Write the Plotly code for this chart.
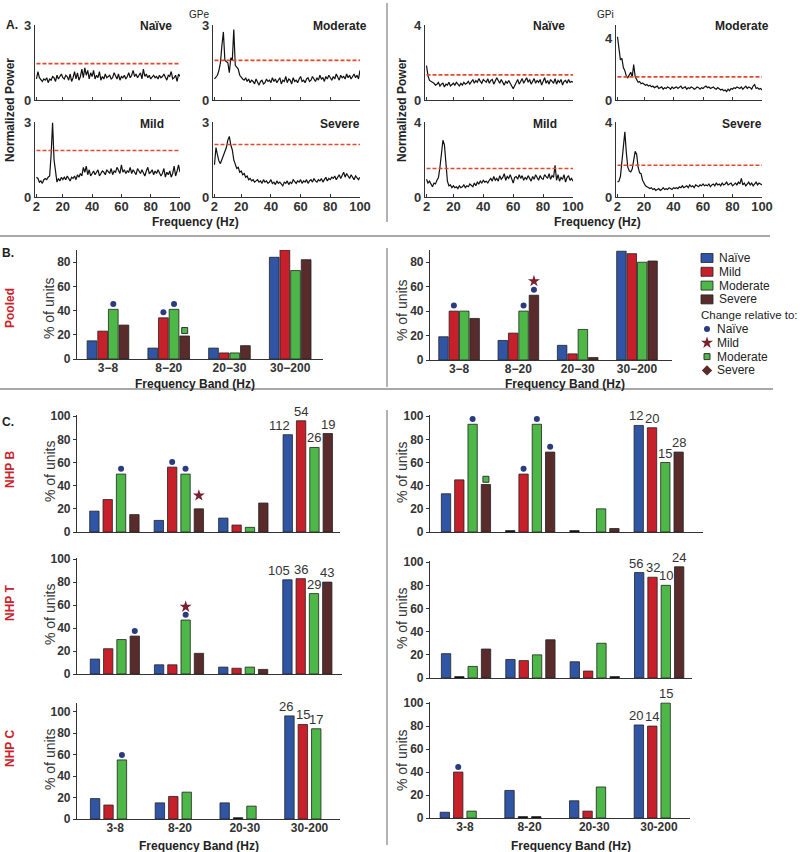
import plotly.graph_objects as go

# ---------------------------------------------------------------- data
FREQ_HZ = [2, 3, 4, 5, 6, 7, 8, 9, 10, 11, 12, 13, 14, 15, 16, 17, 18, 19, 20, 21,
           22, 23, 24, 25, 26, 27, 28, 29, 30, 31, 32, 33, 34, 35, 36, 37, 38, 39, 40, 41,
           42, 43, 44, 45, 46, 47, 48, 49, 50, 51, 52, 53, 54, 55, 56, 57, 58, 59, 60, 61,
           62, 63, 64, 65, 66, 67, 68, 69, 70, 71, 72, 73, 74, 75, 76, 77, 78, 79, 80, 81,
           82, 83, 84, 85, 86, 87, 88, 89, 90, 91, 92, 93, 94, 95, 96, 97, 98, 99, 100]

GPE_NAIVE = [0.85, 1.15, 0.90, 0.80, 0.75, 0.85, 0.80, 0.90, 0.70, 0.85, 0.80, 0.95, 0.90, 0.75, 1.00, 0.85, 0.95, 1.05, 0.90, 0.85,
             1.00, 0.95, 0.80, 1.05, 0.75, 0.90, 1.15, 0.85, 1.10, 0.80, 0.95, 1.25, 0.90, 1.30, 1.00, 1.20, 0.85, 1.10, 0.95, 1.20,
             0.85, 1.00, 0.90, 1.15, 0.80, 0.95, 0.85, 1.05, 0.90, 0.95, 1.00, 0.85, 0.90, 1.10, 0.95, 0.85, 1.05, 0.80, 0.95, 0.90,
             1.00, 0.85, 0.95, 1.10, 0.90, 1.00, 1.20, 0.95, 1.05, 0.90, 1.00, 1.10, 0.85, 1.25, 0.95, 1.05, 0.90, 1.00, 0.85, 0.95,
             1.00, 0.90, 0.95, 0.85, 1.00, 0.90, 0.95, 1.05, 0.90, 0.80, 1.00, 0.95, 1.15, 0.85, 0.90, 1.00, 0.75, 1.05, 0.95]
GPE_MODERATE = [0.85, 0.95, 1.00, 1.20, 1.50, 2.20, 2.75, 1.60, 1.55, 1.50, 1.10, 1.70, 1.60, 2.85, 1.40, 1.30, 1.25, 1.00, 0.90, 0.85,
                0.80, 0.90, 0.75, 0.85, 0.70, 0.80, 0.75, 0.65, 0.85, 0.70, 0.60, 0.75, 0.80, 0.65, 0.70, 0.85, 0.75, 0.80, 0.70, 0.90,
                0.75, 0.85, 0.70, 0.80, 0.90, 0.65, 0.80, 0.75, 0.95, 0.70, 0.85, 0.80, 0.65, 0.90, 0.75, 0.80, 0.70, 0.85, 0.95, 0.75,
                0.80, 0.70, 0.85, 0.90, 0.75, 0.80, 0.95, 0.85, 0.75, 0.90, 0.80, 1.00, 0.85, 0.90, 0.75, 0.95, 0.85, 1.00, 0.90, 0.80,
                0.95, 0.85, 1.05, 0.90, 0.80, 1.00, 0.90, 0.95, 0.85, 1.05, 0.90, 1.00, 0.85, 0.95, 1.05, 0.90, 1.00, 0.85, 1.20]
GPE_MILD = [0.80, 0.75, 0.60, 0.65, 0.55, 0.70, 0.75, 0.70, 0.80, 0.85, 1.70, 3.00, 1.50, 0.90, 0.60, 0.75, 0.65, 0.80, 0.70, 0.80,
            0.70, 0.85, 0.75, 0.65, 0.80, 0.75, 0.85, 0.70, 0.90, 0.80, 0.95, 0.85, 1.20, 1.00, 1.25, 0.90, 1.10, 0.85, 0.95, 1.05,
            0.90, 1.00, 1.10, 0.85, 0.95, 1.05, 1.00, 0.90, 1.10, 1.00, 0.95, 1.15, 0.90, 1.05, 1.00, 1.20, 1.10, 0.95, 1.30, 1.00,
            1.10, 0.95, 1.05, 1.00, 1.20, 0.95, 1.10, 1.00, 0.90, 1.15, 1.05, 0.95, 1.10, 1.00, 0.85, 1.05, 1.20, 0.95, 1.00, 1.10,
            0.90, 1.05, 0.95, 1.10, 1.00, 0.85, 0.95, 1.15, 0.80, 1.00, 0.90, 1.05, 0.80, 0.95, 1.25, 0.85, 1.05, 1.30, 1.00]
GPE_SEVERE = [1.30, 2.00, 1.70, 1.45, 1.35, 1.50, 1.70, 1.85, 2.00, 2.30, 2.45, 2.10, 1.90, 1.50, 1.30, 1.15, 1.20, 1.00, 1.05, 0.90,
              0.95, 0.80, 0.85, 0.70, 0.75, 0.65, 0.70, 0.60, 0.65, 0.70, 0.60, 0.65, 0.55, 0.70, 0.60, 0.65, 0.55, 0.60, 0.70, 0.55,
              0.60, 0.50, 0.65, 0.55, 0.60, 0.50, 0.45, 0.60, 0.55, 0.65, 0.50, 0.60, 0.55, 0.70, 0.60, 0.55, 0.65, 0.60, 0.70, 0.55,
              0.65, 0.60, 0.70, 0.55, 0.65, 0.70, 0.60, 0.75, 0.65, 0.60, 0.70, 0.65, 0.75, 0.60, 0.70, 0.80, 0.65, 0.75, 0.70, 0.80,
              0.75, 0.85, 0.70, 0.80, 0.90, 0.75, 0.85, 1.00, 0.80, 0.95, 0.85, 0.75, 0.90, 0.80, 0.70, 0.85, 0.75, 0.70, 0.80]

GPI_NAIVE = [1.85, 1.30, 1.05, 1.00, 0.95, 0.90, 0.80, 0.85, 0.95, 0.75, 0.85, 0.90, 0.70, 0.85, 0.80, 0.95, 0.75, 0.85, 0.90, 0.80,
             0.95, 0.85, 0.75, 0.90, 0.80, 0.95, 0.85, 0.90, 1.00, 0.85, 0.95, 1.10, 0.90, 1.05, 0.95, 1.15, 1.00, 0.90, 1.10, 1.00,
             0.95, 1.15, 0.90, 1.05, 1.10, 0.85, 1.00, 1.20, 1.05, 0.90, 1.10, 0.95, 0.80, 1.00, 0.90, 1.05, 0.85, 0.75, 0.60, 0.80,
             0.95, 1.10, 0.85, 1.00, 1.15, 0.90, 1.05, 1.20, 0.95, 1.10, 0.85, 1.00, 1.15, 0.90, 1.05, 0.95, 1.10, 0.80, 1.00, 1.20,
             0.90, 1.05, 0.85, 1.10, 1.00, 0.90, 1.15, 0.85, 1.05, 0.95, 1.10, 0.80, 1.00, 1.05, 0.90, 1.10, 0.95, 1.00, 0.95]
GPI_MODERATE = [4.10, 3.40, 2.60, 2.70, 2.10, 1.90, 1.55, 1.45, 1.60, 1.80, 1.50, 2.30, 1.50, 1.30, 1.15, 1.20, 1.05, 1.10, 1.00, 0.95,
                1.00, 0.90, 0.95, 0.85, 0.90, 0.80, 0.85, 0.90, 0.75, 0.80, 0.85, 0.70, 0.80, 0.75, 0.85, 0.80, 0.70, 0.85, 0.75, 0.80,
                0.85, 0.75, 0.80, 0.90, 0.75, 0.80, 0.85, 0.70, 0.80, 0.75, 0.85, 0.80, 0.70, 0.75, 0.85, 0.80, 0.70, 0.80, 0.75, 0.85,
                0.90, 0.80, 0.85, 0.75, 0.80, 0.85, 0.75, 0.70, 0.80, 0.75, 0.65, 0.70, 0.60, 0.65, 0.55, 0.70, 0.60, 0.75, 0.70, 0.80,
                0.75, 0.85, 0.80, 0.75, 0.85, 0.70, 0.80, 0.90, 0.75, 0.85, 0.80, 0.70, 0.90, 1.00, 0.75, 0.80, 0.70, 0.75, 0.65]
GPI_MILD = [0.95, 0.75, 0.85, 0.65, 0.55, 0.75, 0.70, 0.90, 1.05, 1.60, 2.50, 3.05, 2.80, 1.70, 0.85, 0.60, 0.65, 0.50, 0.60, 0.50,
            0.55, 0.45, 0.60, 0.50, 0.55, 0.65, 0.50, 0.60, 0.55, 0.70, 0.60, 0.55, 0.75, 0.60, 0.80, 0.70, 0.85, 0.75, 0.90, 0.80,
            0.85, 0.75, 0.90, 1.00, 0.85, 1.10, 0.90, 1.00, 0.85, 1.15, 0.95, 1.05, 1.25, 0.90, 1.10, 1.00, 1.20, 0.95, 0.75, 1.05,
            1.10, 0.95, 1.20, 1.00, 1.15, 0.90, 1.05, 0.95, 1.15, 1.00, 0.85, 1.10, 0.95, 1.20, 1.05, 0.90, 1.15, 1.00, 0.95, 1.20,
            1.10, 1.00, 1.25, 0.95, 1.15, 1.05, 1.70, 0.90, 1.20, 0.85, 1.05, 0.95, 1.20, 0.80, 1.05, 1.15, 0.90, 1.00, 0.85]
GPI_SEVERE = [0.80, 0.85, 1.10, 1.80, 2.80, 3.50, 2.40, 1.60, 1.40, 1.35, 1.50, 1.90, 2.45, 2.30, 1.60, 1.30, 1.25, 0.90, 0.70, 0.60,
              0.55, 0.50, 0.45, 0.50, 0.40, 0.45, 0.35, 0.40, 0.45, 0.35, 0.40, 0.50, 0.40, 0.45, 0.40, 0.50, 0.45, 0.40, 0.50, 0.45,
              0.50, 0.45, 0.55, 0.50, 0.60, 0.50, 0.55, 0.60, 0.50, 0.65, 0.55, 0.60, 0.50, 0.65, 0.60, 0.55, 0.65, 0.60, 0.70, 0.60,
              0.65, 0.60, 0.70, 0.55, 0.65, 0.70, 0.60, 0.75, 0.65, 0.70, 0.60, 0.75, 0.65, 0.70, 0.80, 0.65, 0.70, 0.75, 0.60, 0.70,
              0.75, 0.65, 0.80, 0.70, 1.00, 0.65, 0.75, 0.60, 0.70, 0.80, 0.65, 0.75, 0.60, 0.70, 0.80, 0.65, 0.75, 0.70, 0.65]

GPE_THRESH = {"Naïve": 1.47, "Mild": 1.88, "Moderate": 1.60, "Severe": 2.12}
GPI_THRESH = {"Naïve": 1.35, "Mild": 1.53, "Moderate": 1.50, "Severe": 1.71}

STATES = ["Naïve", "Mild", "Moderate", "Severe"]
BANDS_POOLED = ["3\u22128", "8\u221220", "20\u221230", "30\u2212200"]
BANDS_NHP = ["3-8", "8-20", "20-30", "30-200"]

POOLED_GPE = {"Naïve": [15, 9, 9, 84], "Mild": [23, 34, 5, 90], "Moderate": [41, 41, 5, 73], "Severe": [28, 19, 11, 82]}
POOLED_GPI = {"Naïve": [19, 16, 12, 89], "Mild": [40, 22, 5, 87], "Moderate": [40, 40, 25, 80], "Severe": [34, 53, 2, 81]}
NHPB_GPE = {"Naïve": [18, 10, 12, 84], "Mild": [28, 56, 6, 96], "Moderate": [50, 50, 4, 73], "Severe": [15, 20, 25, 85]}
NHPB_GPI = {"Naïve": [33, 0, 0, 92], "Mild": [45, 50, None, 90], "Moderate": [93, 93, 20, 60], "Severe": [41, 69, 3, 69]}
NHPT_GPE = {"Naïve": [13, 8, 6, 82], "Mild": [22, 8, 5, 83], "Moderate": [30, 47, 6, 70], "Severe": [33, 18, 4, 80]}
NHPT_GPI = {"Naïve": [21, 16, 14, 91], "Mild": [0, 15, 6, 87], "Moderate": [10, 20, 30, 80], "Severe": [25, 33, 0, 96]}
NHPC_GPE = {"Naïve": [19, 15, 15, 96], "Mild": [13, 21, 0, 88], "Moderate": [55, 25, 12, 84]}
NHPC_GPI = {"Naïve": [5, 24, 15, 81], "Mild": [40, 0, 6, 80], "Moderate": [6, 0, 27, 100]}

# unit counts written above the 30-200 bars
NHPB_GPE_N = [112, 54, 26, 19]
NHPB_GPI_N = [12, 20, 15, 28]
NHPT_GPE_N = [105, 36, 29, 43]
NHPT_GPI_N = [56, 32, 10, 24]
NHPC_GPE_N = [26, 15, 17]
NHPC_GPI_N = [20, 14, 15]

# significant changes: (band index, state, relative to)
SIG_POOLED_GPE = [(0, "Moderate", "Naïve"), (1, "Mild", "Naïve"), (1, "Moderate", "Naïve"), (1, "Severe", "Moderate")]
SIG_POOLED_GPI = [(0, "Mild", "Naïve"), (1, "Moderate", "Naïve"), (1, "Severe", "Naïve"), (1, "Severe", "Mild")]
SIG_NHPB_GPE = [(0, "Moderate", "Naïve"), (1, "Mild", "Naïve"), (1, "Moderate", "Naïve"), (1, "Severe", "Mild")]
SIG_NHPB_GPI = [(0, "Moderate", "Naïve"), (0, "Moderate", "Mild"), (0, "Severe", "Moderate"), (1, "Mild", "Naïve"),
                (1, "Moderate", "Naïve"), (1, "Moderate", "Mild"), (1, "Severe", "Naïve")]
SIG_NHPT_GPE = [(0, "Severe", "Naïve"), (1, "Moderate", "Naïve"), (1, "Moderate", "Mild")]
SIG_NHPT_GPI = []
SIG_NHPC_GPE = [(0, "Moderate", "Naïve")]
SIG_NHPC_GPI = [(0, "Mild", "Naïve")]

# ---------------------------------------------------------------- style
FONT = "Liberation Sans, Arial, Helvetica, sans-serif"
W, H = 800, 852
COLORS = {"Naïve": "#2f55a4", "Mild": "#c8202a", "Moderate": "#4db848", "Severe": "#5a2b2b"}
RED_LABEL = "#cc2229"
SIG_MARKER = {
    "Naïve": dict(symbol="circle", size=6, color="#2b3b80"),
    "Mild": dict(symbol="star", size=9, color="#7a1f2c"),
    "Moderate": dict(symbol="square", size=6, color="#4db848", line=dict(color="#333", width=1)),
    "Severe": dict(symbol="diamond", size=8, color="#5a2b2b"),
}
SIG_OFFSET = {"Naïve": 4.5, "Mild": 11.5, "Moderate": 4.5, "Severe": 4.5}

fig = go.Figure()
layout = {}
annotations = []
shapes = []
axn = [0]


def px_x(x):
    return x / W


def px_y(y):
    return 1 - y / H


def ann(x, y, text, size=12, bold=True, color="#222", angle=0, xanchor="center"):
    annotations.append(dict(xref="paper", yref="paper", x=px_x(x), y=px_y(y), text=text, showarrow=False,
                            xanchor=xanchor, yanchor="middle", textangle=angle,
                            font=dict(family=FONT, size=size, color=color, weight="bold" if bold else "normal")))


def sep(x0, y0, x1, y1, width=1.5, color="#9a9a9a"):
    shapes.append(dict(type="line", xref="paper", yref="paper", x0=px_x(x0), y0=px_y(y0), x1=px_x(x1), y1=px_y(y1),
                       line=dict(color=color, width=width)))


def new_axes(xpx, ypx, xr, yr, xkw=None, ykw=None):
    axn[0] += 1
    s = "" if axn[0] == 1 else str(axn[0])
    base = dict(showgrid=False, zeroline=False, showline=True, linecolor="#333", linewidth=1.2, automargin=False,
                tickfont=dict(family=FONT, size=12, color="#333", weight="bold"), fixedrange=True)
    xa = dict(base, domain=[px_x(xpx[0]), px_x(xpx[1])], range=xr, anchor="y" + s)
    ya = dict(base, domain=[px_y(ypx[1]), px_y(ypx[0])], range=yr, anchor="x" + s)
    xa.update(xkw or {})
    ya.update(ykw or {})
    layout["xaxis" + s] = xa
    layout["yaxis" + s] = ya
    return "x" + s, "y" + s


# ---------------------------------------------------------------- panel A
GPE_SPECTRA = {"Naïve": GPE_NAIVE, "Moderate": GPE_MODERATE, "Mild": GPE_MILD, "Severe": GPE_SEVERE}
GPI_SPECTRA = {"Naïve": GPI_NAIVE, "Moderate": GPI_MODERATE, "Mild": GPI_MILD, "Severe": GPI_SEVERE}
A_ROWS = [(25, 100), (122, 197)]
A_COLS = {"GPe": [(35, 180), (213, 360)], "GPi": [(425, 573), (616, 762)]}
A_POS = {"Naïve": (0, 0), "Moderate": (0, 1), "Mild": (1, 0), "Severe": (1, 1)}
TITLE_OFFSET = {"Naïve": 24, "Moderate": 20, "Mild": 28, "Severe": 20}
A_TICKFONT = dict(family=FONT, size=13, color="#333", weight="bold")

for region, spectra, thr, ytop in [("GPe", GPE_SPECTRA, GPE_THRESH, 3), ("GPi", GPI_SPECTRA, GPI_THRESH, 4)]:
    for state, (r, c) in A_POS.items():
        xpx = A_COLS[region][c]
        ypx = A_ROWS[r]
        yr_top = 4.86 if (region == "GPi" and state == "Moderate") else ytop + 0.03
        xa, ya = new_axes(xpx, ypx, [1, 100], [0, yr_top],
                          dict(tickvals=[2, 20, 40, 60, 80, 100], ticks="inside", ticklen=3, tickcolor="#333",
                               showticklabels=(r == 1), tickfont=A_TICKFONT, ticklabelstandoff=-3),
                          dict(tickvals=[0, ytop], ticks="", tickfont=A_TICKFONT))
        fig.add_trace(go.Scatter(x=FREQ_HZ, y=spectra[state], mode="lines", line=dict(color="#111", width=1.2),
                                 xaxis=xa, yaxis=ya, showlegend=False, hoverinfo="skip"))
        shapes.append(dict(type="line", xref=xa, yref=ya, x0=2, x1=100, y0=thr[state], y1=thr[state],
                           line=dict(color="#e2472f", width=1.6, dash="4px,2px")))
        ann(xpx[1] - TITLE_OFFSET[state], ypx[0] + 1.5, state, size=12)

ann(199, 14, "GPe", size=10, bold=False)
ann(605, 14, "GPi", size=10, bold=False)
ann(12, 25, "A.", size=12)
ann(10, 110, "Normalized Power", size=12, angle=-90)
ann(402, 110, "Normalized Power", size=12, angle=-90)
ann(195, 222, "Frequency (Hz)", size=12)
ann(597, 222, "Frequency (Hz)", size=12)


# ---------------------------------------------------------------- panels B and C
def bar_panel(data, xpx, ypx, xr, yr, yticks, bands, sig, counts, pitch, width, show_xlabels):
    xa, ya = new_axes(xpx, ypx, xr, yr,
                      dict(tickvals=[0, 1, 2, 3], ticktext=bands, ticks="", showticklabels=show_xlabels,
                           ticklabelstandoff=-3),
                      dict(tickvals=yticks, ticks="outside", ticklen=3, tickcolor="#333"))

    def xpos(i, j):
        return i + (j - 1.5) * pitch

    dash_h = 2.4
    for j, st in enumerate(STATES):
        if st not in data:
            continue
        xs, ys, bs, cs = [], [], [], []
        for i, v in enumerate(data[st]):
            if v is None:
                continue
            xs.append(xpos(i, j))
            if v == 0:
                ys.append(dash_h)
                bs.append(-dash_h / 2)
                cs.append("#111")
            else:
                ys.append(v)
                bs.append(0)
                cs.append(COLORS[st])
        fig.add_trace(go.Bar(x=xs, y=ys, base=bs, width=width, name=st,
                             marker=dict(color=cs, line=dict(color="#222", width=0.8)),
                             xaxis=xa, yaxis=ya, cliponaxis=False, showlegend=False, hoverinfo="skip"))
    for vs in STATES:
        pts = [(b, s) for (b, s, v) in sig if v == vs]
        if not pts:
            continue
        fig.add_trace(go.Scatter(x=[xpos(b, STATES.index(s)) for b, s in pts],
                                 y=[data[s][b] + SIG_OFFSET[vs] for b, s in pts],
                                 mode="markers", marker=SIG_MARKER[vs], xaxis=xa, yaxis=ya,
                                 cliponaxis=False, showlegend=False, hoverinfo="skip"))
    if counts:
        for j, n in enumerate(counts):
            st = STATES[j]
            label = str(n)
            if len(label) >= 3:
                x, anchor, shift = xpos(3, j) + width / 2, "right", 0
            else:
                x, anchor, shift = xpos(3, j), "center", (-3 if j == 0 else 0)
            annotations.append(dict(xref=xa, yref=ya, x=x, y=data[st][3], text=label, xshift=shift,
                                    showarrow=False, xanchor=anchor, yanchor="bottom",
                                    font=dict(family=FONT, size=13, color="#333")))
    return xa, ya


B_TICKS = [0, 20, 40, 60, 80]
C_TICKS = [0, 20, 40, 60, 80, 100]
PB, WB = 0.175, 0.16
PC, WC = 0.207, 0.145

bar_panel(POOLED_GPE, (77, 323), (250, 359), [-0.51, 3.54], [0, 90], B_TICKS, BANDS_POOLED, SIG_POOLED_GPE, None, PB, WB, True)
bar_panel(POOLED_GPI, (430, 672), (250, 360), [-0.49, 3.59], [0, 90], B_TICKS, BANDS_POOLED, SIG_POOLED_GPI, None, PB, WB, True)

bar_panel(NHPB_GPE, (77, 340), (415, 532), [-0.58, 3.5], [0, 101], C_TICKS, BANDS_NHP, SIG_NHPB_GPE, NHPB_GPE_N, PC, WC, False)
bar_panel(NHPB_GPI, (430, 703), (415, 532), [-0.56, 3.69], [0, 101], C_TICKS, BANDS_NHP, SIG_NHPB_GPI, NHPB_GPI_N, PC, WC, False)
bar_panel(NHPT_GPE, (77, 342), (558, 674), [-0.59, 3.54], [0, 101], C_TICKS, BANDS_NHP, SIG_NHPT_GPE, NHPT_GPE_N, PC, WC, False)
bar_panel(NHPT_GPI, (430, 692), (561, 678), [-0.56, 3.51], [0, 101], C_TICKS, BANDS_NHP, SIG_NHPT_GPI, NHPT_GPI_N, PC, WC, False)
bar_panel(NHPC_GPE, (77, 340), (703, 819), [-0.59, 3.47], [0, 108], C_TICKS, BANDS_NHP, SIG_NHPC_GPE, NHPC_GPE_N, PC, WC, True)
bar_panel(NHPC_GPI, (430, 690), (702, 818), [-0.54, 3.48], [0, 101], C_TICKS, BANDS_NHP, SIG_NHPC_GPI, NHPC_GPI_N, PC, WC, True)

ann(8, 253, "B.", size=12)
ann(8, 422, "C.", size=12)
ann(10, 308, "Pooled", size=12, color=RED_LABEL, angle=-90)
ann(10, 470, "NHP B", size=12, color=RED_LABEL, angle=-90)
ann(10, 603, "NHP T", size=12, color=RED_LABEL, angle=-90)
ann(10, 749, "NHP C", size=12, color=RED_LABEL, angle=-90)
for x, y in [(49, 309), (402, 310), (50, 472), (402, 472), (50, 615), (402, 618), (50, 760), (402, 760)]:
    ann(x, y, "% of units", size=14, bold=False, color="#333", angle=-90)
ann(195, 384, "Frequency Band (Hz)", size=12)
ann(565, 384, "Frequency Band (Hz)", size=12)
ann(199, 846, "Frequency Band (Hz)", size=12)
ann(571, 846, "Frequency Band (Hz)", size=12)

# ---------------------------------------------------------------- legend (panel B, right)
LX, LY = new_axes((690, 800), (245, 390), [690, 800], [390, 245], dict(visible=False), dict(visible=False))
LEG_Y0, LEG_STEP = 258, 13.8
for k, st in enumerate(STATES):
    yc = LEG_Y0 + k * LEG_STEP
    shapes.append(dict(type="rect", xref=LX, yref=LY, x0=701, x1=713, y0=yc - 4.5, y1=yc + 4.5,
                       fillcolor=COLORS[st], line=dict(color="#222", width=0.8)))
    annotations.append(dict(xref=LX, yref=LY, x=717, y=yc, text=st, showarrow=False, xanchor="left", yanchor="middle",
                            font=dict(family=FONT, size=12, color="#222")))
annotations.append(dict(xref=LX, yref=LY, x=699, y=LEG_Y0 + 4 * LEG_STEP + 2, text="Change relative to:",
                        showarrow=False, xanchor="left", yanchor="middle", font=dict(family=FONT, size=11.5, color="#222")))
for k, st in enumerate(STATES):
    yc = LEG_Y0 + (5 + k) * LEG_STEP + 2
    fig.add_trace(go.Scatter(x=[707], y=[yc], mode="markers", marker=SIG_MARKER[st], xaxis=LX, yaxis=LY,
                             showlegend=False, hoverinfo="skip", cliponaxis=False))
    annotations.append(dict(xref=LX, yref=LY, x=715, y=yc, text=st, showarrow=False, xanchor="left", yanchor="middle",
                            font=dict(family=FONT, size=12, color="#222")))

# ---------------------------------------------------------------- separators
sep(387, 3, 387, 222)
sep(0, 236, 770, 236, width=2.2, color="#a8a8a8")
sep(387, 248, 387, 387)
sep(0, 389, 773, 389, width=2.2, color="#a8a8a8")
sep(387, 410, 387, 845)

layout.update(dict(template="none", width=W, height=H, margin=dict(l=0, r=0, t=0, b=0, pad=0), paper_bgcolor="white",
                   plot_bgcolor="white", barmode="overlay", showlegend=False,
                   font=dict(family=FONT, size=12, color="#222"),
                   annotations=annotations, shapes=shapes))
fig.update_layout(**layout)
fig.write_html("out.html", config={"displayModeBar": False},
               post_script="document.body.style.margin='0';document.body.style.padding='0';"
                           "document.body.style.overflow='hidden';")
